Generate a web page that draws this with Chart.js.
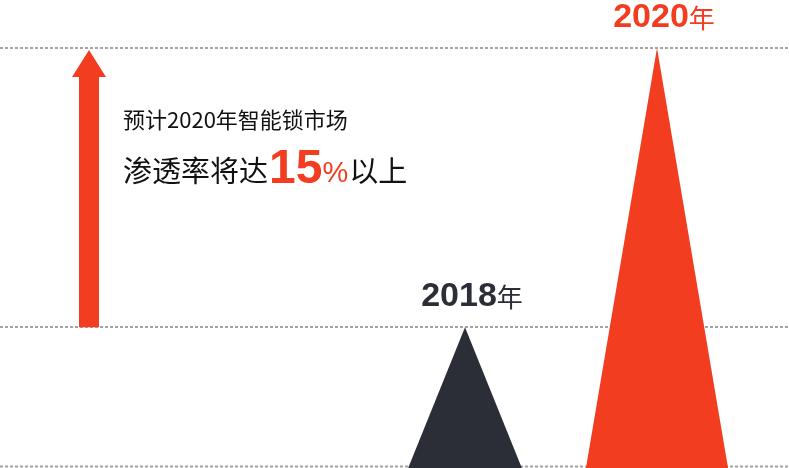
<!DOCTYPE html>
<html>
<head>
<meta charset="utf-8">
<script src="https://cdn.jsdelivr.net/npm/chart.js@4.4.1/dist/chart.umd.min.js"></script>
<style>
  body { margin: 0; background: #fff; }
</style>
</head>
<body>
<canvas id="myChart" width="789" height="468"></canvas>
<script>
// data
let years = ["2018", "2020"];
let yearSuffix = "年";
let penetration = [5, 15];   // % smart-lock market penetration
let noteLine1 = "预计2020年智能锁市场";
let noteLine2 = ["渗透率将达", "15", "%", "以上"];

let red = "#f23d21";
let dark = "#2b2e37";
let cjkFont = "'Noto Sans CJK SC', 'Noto Sans', sans-serif";
let numFont = "'Liberation Sans', Arial, sans-serif";

// triangle base width relative to the bar width
let triScale = [0.8, 1];

let triangles = {
    id: "triangles",
    beforeDatasetsDraw(chart) {
        let ctx = chart.ctx;
        let y = chart.scales.y;
        // dotted guide lines across the whole picture
        let levels = [0].concat(penetration);
        ctx.save();
        ctx.strokeStyle = "#a3a3a3";
        ctx.lineWidth = 2;
        ctx.setLineDash([3, 2]);
        levels.forEach(function (v) {
            let py = Math.round(y.getPixelForValue(v));
            if (v === 0) py = py - 0.5;
            ctx.beginPath();
            ctx.moveTo(0, py);
            ctx.lineTo(chart.width, py);
            ctx.stroke();
        });
        ctx.restore();

        // the triangles in place of the bars
        let meta = chart.getDatasetMeta(0);
        meta.data.forEach(function (bar, i) {
            let half = bar.width * triScale[i] / 2;
            ctx.save();
            ctx.fillStyle = bar.options.backgroundColor;
            ctx.beginPath();
            ctx.moveTo(bar.x - half, bar.base + 1);
            ctx.lineTo(bar.x, bar.y);
            ctx.lineTo(bar.x + half, bar.base + 1);
            ctx.closePath();
            ctx.fill();
            ctx.restore();
        });
        return false;
    },
    afterDraw(chart) {
        let ctx = chart.ctx;
        let y = chart.scales.y;
        let meta = chart.getDatasetMeta(0);
        let colors = [dark, red];

        // year labels above the tips
        ctx.save();
        ctx.textBaseline = "alphabetic";
        ctx.textAlign = "left";
        meta.data.forEach(function (bar, i) {
            ctx.font = "bold 34px " + numFont;
            let w1 = ctx.measureText(years[i]).width;
            ctx.font = "26px " + cjkFont;
            let w2 = ctx.measureText(yearSuffix).width;
            let left = bar.x + 7 - (w1 + w2) / 2;
            let base = bar.y - 21;
            ctx.fillStyle = colors[i];
            ctx.font = "bold 34px " + numFont;
            ctx.fillText(years[i], left, base);
            ctx.font = "26px " + cjkFont;
            ctx.fillText(yearSuffix, left + w1, base + 1);
        });

        // arrow from the 2018 level up to the 2020 level
        let ax = 89;
        let yTop = y.getPixelForValue(penetration[1]) + 2;
        let yBot = y.getPixelForValue(penetration[0]);
        ctx.fillStyle = red;
        ctx.beginPath();
        ctx.moveTo(ax, yTop);
        ctx.lineTo(ax + 17, yTop + 27);
        ctx.lineTo(ax + 10, yTop + 27);
        ctx.lineTo(ax + 10, yBot);
        ctx.lineTo(ax - 10, yBot);
        ctx.lineTo(ax - 10, yTop + 27);
        ctx.lineTo(ax - 17, yTop + 27);
        ctx.closePath();
        ctx.fill();

        // note text
        ctx.fillStyle = "#111";
        ctx.font = "22px " + cjkFont;
        ctx.fillText(noteLine1, 123, 128);

        let x = 123;
        let b = 182;
        ctx.font = "29px " + cjkFont;
        ctx.fillStyle = "#111";
        ctx.fillText(noteLine2[0], x, b);
        x += ctx.measureText(noteLine2[0]).width + 1;
        ctx.font = "bold 48px " + numFont;
        ctx.fillStyle = red;
        ctx.fillText(noteLine2[1], x, b + 1);
        x += ctx.measureText(noteLine2[1]).width;
        ctx.font = "29px " + numFont;
        ctx.fillText(noteLine2[2], x, b);
        x += ctx.measureText(noteLine2[2]).width + 1;
        ctx.font = "29px " + cjkFont;
        ctx.fillStyle = "#111";
        ctx.fillText(noteLine2[3], x, b);
        ctx.restore();
    }
};

let lockChart = new Chart("myChart", {
    type: "bar",
    data: {
        labels: years,
        datasets: [{
            data: penetration,
            backgroundColor: [dark, red],
            categoryPercentage: 1,
            barPercentage: 0.74
        }]
    },
    options: {
        responsive: false,
        animation: false,
        layout: { padding: { top: 48, bottom: 1, left: 369, right: 36 } },
        plugins: {
            legend: { display: false },
            tooltip: { enabled: false }
        },
        scales: {
            x: { display: false },
            y: { display: false, min: 0, max: 15 }
        }
    },
    plugins: [triangles]
});
</script>
</body>
</html>
